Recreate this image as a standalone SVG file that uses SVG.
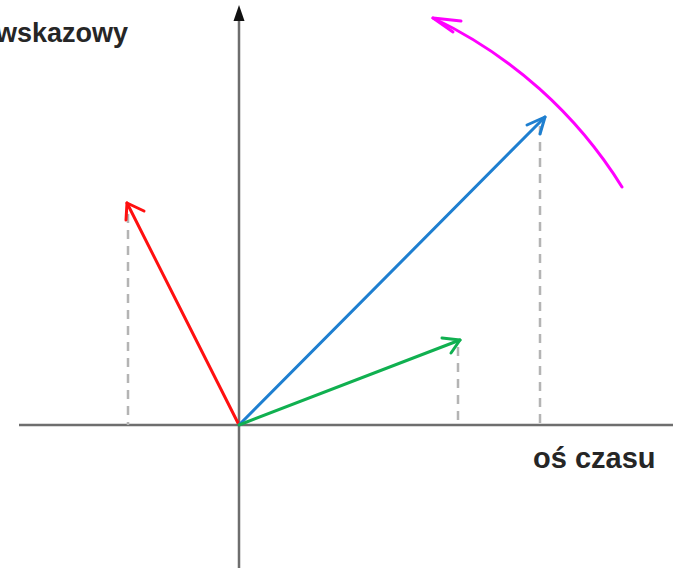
<svg xmlns="http://www.w3.org/2000/svg" width="679" height="568" viewBox="0 0 679 568">
<style>
.axis{stroke:#6e6e6e;stroke-width:2.5;fill:none}
.dash{stroke:#b4b4b4;stroke-width:2.5;stroke-dasharray:9,7;fill:none}
.vec{stroke-width:3;fill:none;stroke-linecap:round;stroke-linejoin:round}
.lbl{font-family:"Liberation Sans",Arial,sans-serif;font-weight:bold;fill:#262626}
</style>
<rect width="679" height="568" fill="#fff"/>
<g id="connectors">
<line class="axis" x1="19" y1="425" x2="673" y2="425"/>
<line class="axis" x1="239" y1="568" x2="239" y2="18"/>
<polygon points="239,5 233.5,21 244.5,21" fill="#111"/>
<line class="dash" x1="128" y1="214" x2="128" y2="425"/>
<line class="dash" x1="540" y1="126" x2="540" y2="425"/>
<line class="dash" x1="458" y1="347" x2="458" y2="425"/>
<g id="red">
<path class="vec" stroke="#ff1010" d="M239,425 L127,203"/>
<path class="vec" stroke="#ff1010" d="M127,203 L126,220 M127,203 L144,211"/>
</g>
<g id="blue">
<path class="vec" stroke="#1e7fd0" d="M239,425 L545,117"/>
<path class="vec" stroke="#1e7fd0" d="M545,117 L527,125 M545,117 L540,134"/>
</g>
<g id="green">
<path class="vec" stroke="#10b050" d="M239,425 L460,340"/>
<path class="vec" stroke="#10b050" d="M460,340 L442,338 M460,340 L451,353"/>
</g>
<g id="rotation">
<path class="vec" stroke="#ff00ff" d="M622,187 A451,451 0 0 0 433,18"/>
<path class="vec" stroke="#ff00ff" d="M433,18 L461,21 M433,18 L453,32"/>
</g>
</g>
<g id="label-y"><text class="lbl" x="128" y="42" font-size="27" text-anchor="end">wskazowy</text></g>
<g id="label-x"><text class="lbl" x="533" y="468" font-size="29">oś czasu</text></g>
</svg>
